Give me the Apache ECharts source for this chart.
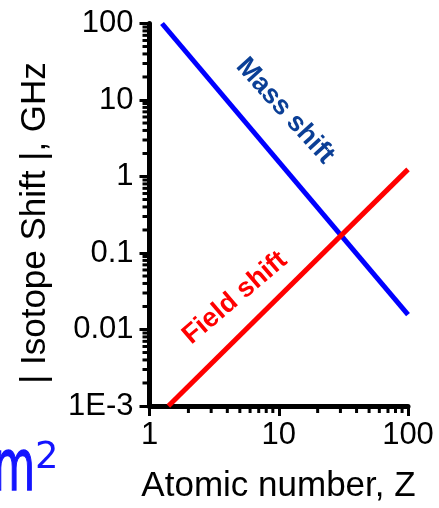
<!DOCTYPE html>
<html>
<head>
<meta charset="utf-8">
<script src="https://cdn.jsdelivr.net/npm/echarts@6/dist/echarts.min.js"></script>
<style>
  html, body { margin: 0; padding: 0; background: #fff; }
  #main { width: 439px; height: 508px; }
</style>
</head>
<body>
<div id="main"></div>
<script>
  // data (log-log, both lines straight)
  var massShift = [[1.25, 100], [100, 0.0156]];
  var fieldShift = [[1.4, 0.001], [100, 1.24]];

  // tick labels
  var xTickLabels = ['1', '10', '100'];
  var yTickLabels = ['1E-3', '0.01', '0.1', '1', '10', '100'];

  // minor tick positions (2..9 in each decade)
  var xMinor = [2, 3, 4, 5, 6, 7, 8, 9, 20, 30, 40, 50, 60, 70, 80, 90];
  var yMinor = [];
  [0.001, 0.01, 0.1, 1, 10].forEach(function (d) {
    for (var k = 2; k <= 9; k++) yMinor.push(d * k);
  });

  var font = '"Liberation Sans", Arial, sans-serif';

  function decade(v, min) {
    return Math.round(Math.log10(v) - Math.log10(min));
  }

  var myChart = echarts.init(document.getElementById('main'));

  var option = {
    backgroundColor: '#ffffff',
    animation: false,
    grid: {
      left: 149.5, right: 31, top: 23.5, bottom: 102,
      containLabel: false,
      outerBoundsMode: 'none'
    },
    xAxis: {
      type: 'log',
      logBase: 10,
      min: 1,
      max: 100,
      axisLine: { lineStyle: { color: '#000', width: 5 } },
      axisTick: { length: 10, lineStyle: { color: '#000', width: 3 } },
      axisLabel: {
        margin: 14,
        fontFamily: font,
        fontSize: 31,
        color: '#000',
        formatter: function (v) { return xTickLabels[decade(v, 1)]; }
      },
      splitLine: { show: false },
      minorTick: { show: false }
    },
    yAxis: {
      type: 'log',
      logBase: 10,
      min: 0.001,
      max: 100,
      axisLine: { lineStyle: { color: '#000', width: 5 } },
      axisTick: { length: 10, lineStyle: { color: '#000', width: 3 } },
      axisLabel: {
        margin: 16,
        fontFamily: font,
        fontSize: 31,
        color: '#000',
        formatter: function (v) { return yTickLabels[decade(v, 0.001)]; }
      },
      splitLine: { show: false },
      minorTick: { show: false }
    },
    graphic: [
      // axis titles
      {
        type: 'text', x: 35, y: 223, rotation: Math.PI / 2,
        style: { text: '| Isotope Shift |, GHz', fill: '#000', font: '35px ' + font,
          textAlign: 'center', textVerticalAlign: 'middle', verticalAlign: 'middle' }
      },
      {
        type: 'text', x: 278.5, y: 486,
        style: { text: 'Atomic number, Z', fill: '#000', font: '35px ' + font,
          textAlign: 'center', textVerticalAlign: 'middle', verticalAlign: 'middle' }
      },
      // line labels
      {
        type: 'text', x: 285, y: 111, rotation: -47.8 * Math.PI / 180,
        style: { text: 'Mass shift', fill: '#0b3f96', font: 'bold 27px ' + font,
          textAlign: 'center', textVerticalAlign: 'middle', verticalAlign: 'middle' }
      },
      {
        type: 'text', x: 235, y: 298, rotation: 40.4 * Math.PI / 180,
        style: { text: 'Field shift', fill: '#ff0000', font: 'bold 27px ' + font,
          textAlign: 'center', textVerticalAlign: 'middle', verticalAlign: 'middle' }
      },
      // cut-off piece of a formula at the lower left
      {
        type: 'text', x: 35, y: 507, scaleX: 0.6,
        style: { text: 'm', fill: '#1414ff', font: '72px "DejaVu Sans", sans-serif',
          textAlign: 'right', textVerticalAlign: 'bottom', verticalAlign: 'bottom',
          stroke: '#1414ff', lineWidth: 1.5 }
      },
      {
        type: 'text', x: 35, y: 477,
        style: { text: '2', fill: '#1414ff', font: '37px "DejaVu Sans", sans-serif',
          textAlign: 'left', textVerticalAlign: 'bottom', verticalAlign: 'bottom' }
      }
    ],
    series: [
      {
        name: 'Mass shift',
        type: 'line',
        data: massShift,
        showSymbol: false,
        lineStyle: { color: '#0000ff', width: 5 },
        itemStyle: { color: '#0000ff' }
      },
      {
        name: 'Field shift',
        type: 'line',
        data: fieldShift,
        showSymbol: false,
        lineStyle: { color: '#ff0000', width: 5 },
        itemStyle: { color: '#ff0000' }
      },
      // minor ticks on x axis
      {
        type: 'custom',
        silent: true,
        clip: false,
        data: xMinor.map(function (v) { return [v, 0.001]; }),
        renderItem: function (params, api) {
          var p = api.coord([api.value(0), api.value(1)]);
          return {
            type: 'line',
            shape: { x1: p[0], y1: p[1], x2: p[0], y2: p[1] + 7 },
            style: { stroke: '#000', lineWidth: 3 }
          };
        }
      },
      // minor ticks on y axis
      {
        type: 'custom',
        silent: true,
        clip: false,
        data: yMinor.map(function (v) { return [1, v]; }),
        renderItem: function (params, api) {
          var p = api.coord([api.value(0), api.value(1)]);
          return {
            type: 'line',
            shape: { x1: p[0] - 7, y1: p[1], x2: p[0], y2: p[1] },
            style: { stroke: '#000', lineWidth: 3 }
          };
        }
      }
    ]
  };

  myChart.setOption(option);
</script>
</body>
</html>
